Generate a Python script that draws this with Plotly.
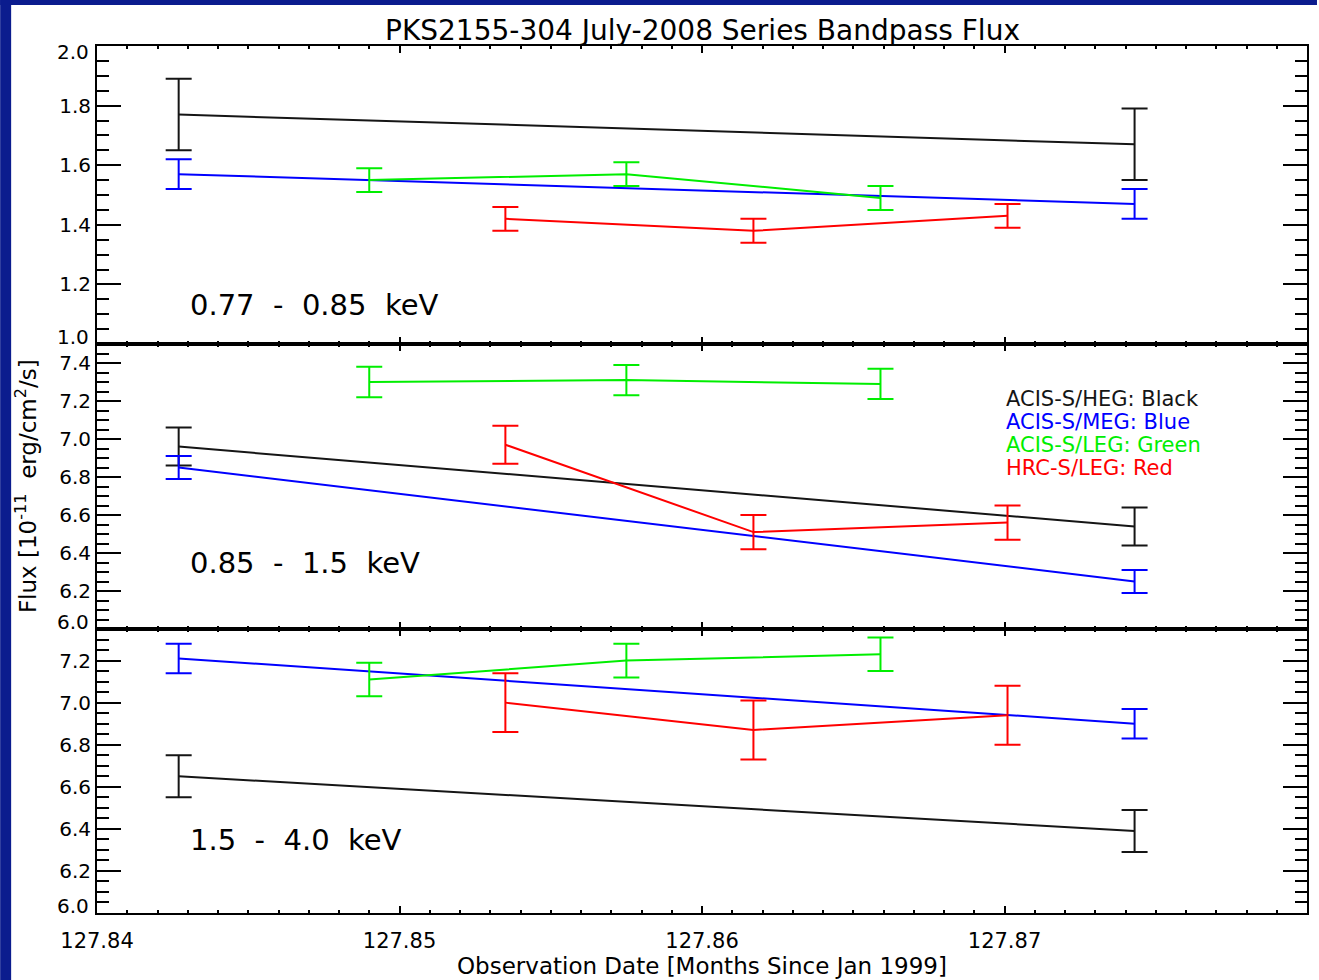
import plotly.graph_objects as go

# ---------------- data ----------------
# Observation dates (months since Jan 1999)
x_heg = [127.8427, 127.8743]
x_meg = [127.8427, 127.8743]
x_leg = [127.8490, 127.8575, 127.8659]
x_hrc = [127.8535, 127.8617, 127.8701]

# Panel 1: 0.77 - 0.85 keV
p1_heg = [1.77, 1.67]
p1_heg_err = [0.12, 0.12]
p1_meg = [1.57, 1.47]
p1_meg_err = [0.05, 0.05]
p1_leg = [1.55, 1.57, 1.49]
p1_leg_err = [0.04, 0.04, 0.04]
p1_hrc = [1.42, 1.38, 1.43]
p1_hrc_err = [0.04, 0.04, 0.04]

# Panel 2: 0.85 - 1.5 keV
p2_heg = [6.96, 6.54]
p2_heg_err = [0.10, 0.10]
p2_meg = [6.85, 6.25]
p2_meg_err = [0.06, 0.06]
p2_leg = [7.30, 7.31, 7.29]
p2_leg_err = [0.08, 0.08, 0.08]
p2_hrc = [6.97, 6.51, 6.56]
p2_hrc_err = [0.10, 0.09, 0.09]

# Panel 3: 1.5 - 4.0 keV
p3_heg = [6.65, 6.39]
p3_heg_err = [0.10, 0.10]
p3_meg = [7.21, 6.90]
p3_meg_err = [0.07, 0.07]
p3_leg = [7.11, 7.20, 7.23]
p3_leg_err = [0.08, 0.08, 0.08]
p3_hrc = [7.00, 6.87, 6.94]
p3_hrc_err = [0.14, 0.14, 0.14]

x_tickvals = [127.84, 127.85, 127.86, 127.87]
x_ticktext = ["127.84", "127.85", "127.86", "127.87"]

# y tick labels per panel (interior ones on the axis, end ones nudged inward as in the reference)
y1_ticks = [1.2, 1.4, 1.6, 1.8]
y2_ticks = [6.2, 6.4, 6.6, 6.8, 7.0, 7.2, 7.4]
y3_ticks = [6.2, 6.4, 6.6, 6.8, 7.0, 7.2]
# (text, axis, value, pixel shift: positive = up)
end_labels = [("2.0", "y", 2.0, -6), ("1.0", "y", 1.0, 7), ("6.0", "y2", 6.0, 7), ("6.0", "y3", 6.0, 7)]

panel_labels = ["0.77  -  0.85  keV", "0.85  -  1.5  keV", "1.5  -  4.0  keV"]
legend_lines = ["ACIS-S/HEG: Black", "ACIS-S/MEG: Blue", "ACIS-S/LEG: Green", "HRC-S/LEG: Red"]
title_text = "PKS2155-304 July-2008 Series Bandpass Flux"
xtitle_text = "Observation Date [Months Since Jan 1999]"
ytitle_text = "Flux [10<sup>-11</sup>\u00a0 erg/cm<sup>2</sup>/s]"

# ---------------- styling ----------------
BLACK = "#151515"
BLUE = "#0000ff"
GREEN = "#00ee00"
RED = "#ff0000"
FONT = "DejaVu Sans"
YTICK_SIZE = 20

W, H = 1319, 980
ML, MR, MT, MB = 97, 10, 46, 67
PW, PH = W - ML - MR, H - MT - MB


def ypaper(ypix):
    return (H - MB - ypix) / PH


def xpaper(xpix):
    return (xpix - ML) / PW


fig = go.Figure()

panels = [
    ("x", "y", (p1_heg, p1_heg_err), (p1_meg, p1_meg_err), (p1_leg, p1_leg_err), (p1_hrc, p1_hrc_err)),
    ("x2", "y2", (p2_heg, p2_heg_err), (p2_meg, p2_meg_err), (p2_leg, p2_leg_err), (p2_hrc, p2_hrc_err)),
    ("x3", "y3", (p3_heg, p3_heg_err), (p3_meg, p3_meg_err), (p3_leg, p3_leg_err), (p3_hrc, p3_hrc_err)),
]

for xa, ya, heg, meg, leg, hrc in panels:
    for xs, (ys, es), col in [(x_heg, heg, BLACK), (x_meg, meg, BLUE), (x_leg, leg, GREEN), (x_hrc, hrc, RED)]:
        fig.add_trace(go.Scatter(
            x=xs, y=ys, mode="lines", xaxis=xa, yaxis=ya,
            line=dict(color=col, width=2),
            error_y=dict(type="data", array=es, visible=True, color=col, thickness=2, width=13),
            showlegend=False, hoverinfo="skip",
        ))

domains = [(ypaper(344), 1.0), (ypaper(629), ypaper(344)), (0.0, ypaper(629))]
yranges = [(1.0, 2.0), (6.0, 7.5), (6.0, 7.35)]
ytick0 = [1.0, 6.0, 6.0]
ytickvals = [y1_ticks, y2_ticks, y3_ticks]

common_x = dict(
    range=[127.84, 127.88], showgrid=False, zeroline=False, showline=True,
    linecolor="black", linewidth=2, mirror="ticks", ticks="inside", ticklen=7,
    tickwidth=2, tickcolor="black", tickmode="array", tickvals=x_tickvals, ticktext=x_ticktext,
    minor=dict(tick0=127.84, dtick=0.001, ticklen=3, tickwidth=2, tickcolor="black", ticks="inside"),
    tickfont=dict(family=FONT, size=21, color="black"),
)

layout = dict(
    width=W, height=H, autosize=False,
    margin=dict(l=ML, r=MR, t=MT, b=MB, pad=0),
    paper_bgcolor="white", plot_bgcolor="white",
    showlegend=False,
)

for i in range(3):
    sfx = "" if i == 0 else str(i + 1)
    xa = dict(common_x)
    xa["anchor"] = "y" + sfx
    xa["showticklabels"] = (i == 2)
    if i == 2:
        xa["ticklabelstandoff"] = 8
    if i > 0:
        xa["matches"] = "x"
    layout["xaxis" + sfx] = xa
    layout["yaxis" + sfx] = dict(
        domain=list(domains[i]), anchor="x" + sfx, range=list(yranges[i]),
        showgrid=False, zeroline=False, showline=True, linecolor="black", linewidth=2,
        mirror="ticks", ticks="inside", ticklen=24, tickwidth=2, tickcolor="black",
        tickmode="array", tickvals=ytickvals[i], ticktext=["%.1f" % v for v in ytickvals[i]],
        minor=dict(tick0=ytick0[i], dtick=0.05, ticklen=12, tickwidth=2, tickcolor="black", ticks="inside"),
        tickfont=dict(family=FONT, size=YTICK_SIZE, color="black"),
    )

fig.update_layout(**layout)

annotations = []
# end-of-axis tick labels, nudged inward like the reference
for txt, yref, val, shift in end_labels:
    annotations.append(dict(text=txt, xref="paper", yref=yref, x=xpaper(91), y=val,
                            xanchor="right", yanchor="middle", yshift=shift, showarrow=False,
                            font=dict(family=FONT, size=YTICK_SIZE, color="black")))
# title
annotations.append(dict(text=title_text, xref="paper", yref="paper", x=0.5, y=ypaper(31),
                        xanchor="center", yanchor="middle", showarrow=False,
                        font=dict(family=FONT, size=28, color="black")))
# x title
annotations.append(dict(text=xtitle_text, xref="paper", yref="paper", x=xpaper(703), y=ypaper(966),
                        xanchor="center", yanchor="middle", showarrow=False,
                        font=dict(family=FONT, size=23, color="black")))
# y title
annotations.append(dict(text=ytitle_text, xref="paper", yref="paper", x=xpaper(26), y=ypaper(486),
                        xanchor="center", yanchor="middle", showarrow=False, textangle=-90,
                        font=dict(family=FONT, size=23, color="black")))
# panel labels
label_centers = [305, 563, 840]
for i, (lab, yc) in enumerate(zip(panel_labels, label_centers)):
    annotations.append(dict(text=lab.replace("  ", "\u00a0 "), xref="paper", yref="paper",
                            x=xpaper(188), y=ypaper(yc), xanchor="left", yanchor="middle",
                            showarrow=False, font=dict(family=FONT, size=29, color="black")))
# legend text
leg_colors = [BLACK, BLUE, GREEN, RED]
leg_y = [399, 422, 445, 468]
for txt, col, yc in zip(legend_lines, leg_colors, leg_y):
    annotations.append(dict(text=txt, xref="paper", yref="paper", x=xpaper(1005), y=ypaper(yc),
                            xanchor="left", yanchor="middle", showarrow=False,
                            font=dict(family=FONT, size=21, color=col)))

# dark-blue slide border
BORDER = "#0b1c8e"
shapes = [
    dict(type="rect", xref="paper", yref="paper", x0=xpaper(0), x1=xpaper(11),
         y0=ypaper(H), y1=ypaper(0), fillcolor=BORDER, line=dict(width=0), layer="above"),
    dict(type="rect", xref="paper", yref="paper", x0=xpaper(0), x1=xpaper(W),
         y0=ypaper(5), y1=ypaper(0), fillcolor=BORDER, line=dict(width=0), layer="above"),
]

fig.update_layout(annotations=annotations, shapes=shapes)
fig.write_html("out.html")
